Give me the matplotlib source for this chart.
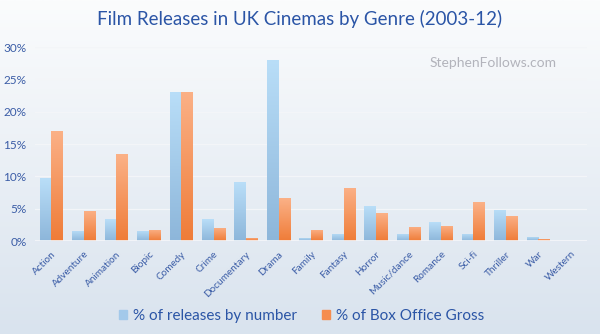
import matplotlib.pyplot as plt
import numpy as np
from matplotlib.colors import LinearSegmentedColormap

plt.rcParams['font.family'] = ['Lato', 'DejaVu Sans']

genres = ['Action', 'Adventure', 'Animation', 'Biopic', 'Comedy', 'Crime',
          'Documentary', 'Drama', 'Family', 'Fantasy', 'Horror', 'Music/dance',
          'Romance', 'Sci-fi', 'Thriller', 'War', 'Western']
by_number = [9.7, 1.6, 3.4, 1.6, 23.1, 3.4, 9.1, 28.0, 0.5, 1.1, 5.4, 1.1,
             2.9, 1.1, 4.8, 0.7, 0.0]
by_gross = [17.1, 4.7, 13.4, 1.8, 23.1, 2.1, 0.5, 6.6, 1.8, 8.2, 4.3, 2.2,
            2.4, 6.0, 3.9, 0.35, 0.0]

title_col = '#2b55a6'
tick_col = '#3a5ca6'

blue_cmap = LinearSegmentedColormap.from_list('b', ['#8db6da', '#b9def8'])
orange_cmap = LinearSegmentedColormap.from_list('o', ['#ef7c38', '#fbb187'])

fig = plt.figure(figsize=(6, 3.34), dpi=100)

# background gradient, white at top fading to pale blue-grey
bg = fig.add_axes([0, 0, 1, 1], zorder=-10)
bg_cmap = LinearSegmentedColormap.from_list('bg', ['#d9e3ee', '#fbfcfd'])
bg.imshow(np.linspace(0, 1, 256).reshape(-1, 1), aspect='auto', cmap=bg_cmap,
          origin='lower', extent=[0, 1, 0, 1])
bg.set_axis_off()

ax = fig.add_axes([0.058, 0.278, 0.92, 0.581])
ax.set_facecolor('none')

x = np.arange(len(genres))
w = 0.34
gap = 0.02

def gradient_bars(xs, vals, cmap):
    bars = ax.bar(xs, vals, width=w, color='none', zorder=3)
    grad = np.linspace(0, 1, 128).reshape(-1, 1)
    for b in bars:
        h = b.get_height()
        if h <= 0:
            continue
        bx = b.get_x()
        im = ax.imshow(grad, aspect='auto', cmap=cmap, origin='lower',
                       extent=[bx, bx + w, 0, h], zorder=3)
        im.set_clip_path(b)

gradient_bars(x - w / 2 - gap / 2, by_number, blue_cmap)
gradient_bars(x + w / 2 + gap / 2, by_gross, orange_cmap)

ax.set_xlim(-0.5, len(genres) - 0.5)
ax.set_ylim(0, 30)
ax.set_yticks(range(0, 31, 5))
ax.set_yticklabels(['{}%'.format(v) for v in range(0, 31, 5)])
ax.grid(axis='y', color='#f3f5f8', linewidth=0.9, zorder=0)
ax.axhline(0, color='#f5f7fa', linewidth=1.2, zorder=4)
for s in ax.spines.values():
    s.set_visible(False)
ax.tick_params(axis='both', length=0, colors=tick_col)
ax.tick_params(axis='y', pad=6, labelsize=8.5)
ax.set_xticks(x)
ax.set_xticklabels(genres, rotation=45, ha='right', rotation_mode='anchor',
                   fontsize=7.2)
ax.tick_params(axis='x', pad=6)

fig.text(0.5, 0.944, 'Film Releases in UK Cinemas by Genre (2003-12)',
         ha='center', va='center', fontsize=13.5, color=title_col)
fig.text(0.822, 0.81, 'StephenFollows.com', ha='center', va='center',
         fontsize=10, color='#b2b3bb')

# legend along the bottom
handles = [plt.Rectangle((0, 0), 1, 1, color='#a3c9ea'),
           plt.Rectangle((0, 0), 1, 1, color='#f58d4f')]
fig.legend(handles, ['% of releases by number', '% of Box Office Gross'],
           loc='center', bbox_to_anchor=(0.503, 0.055), ncol=2, frameon=False,
           fontsize=11, labelcolor=title_col, handlelength=0.55,
           handleheight=0.55, handletextpad=0.4, columnspacing=1.6)

fig.savefig('out.png', dpi=100)
